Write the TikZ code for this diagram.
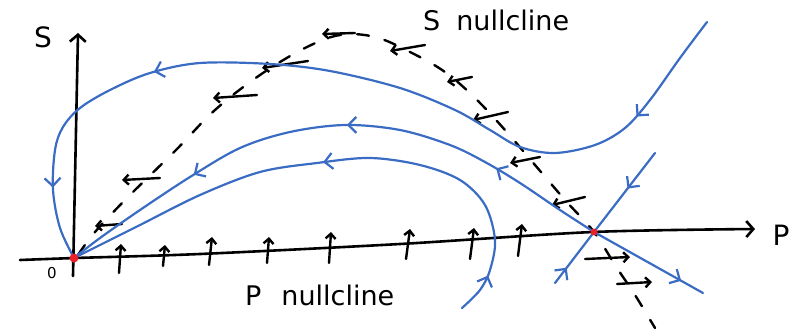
\documentclass[tikz,border=0pt]{standalone}
\usepackage{fontspec}
\setmainfont{DejaVu Sans}
\usetikzlibrary{arrows.meta,decorations.markings}
\definecolor{trajblue}{RGB}{59,108,196}
\definecolor{dotred}{RGB}{232,32,42}
\tikzset{
 axisline/.style={line width=2.6pt, line cap=round, black},
 traj/.style={line width=2.2pt, trajblue, line cap=round},
 fieldarr/.style={line width=2.4pt, line cap=round, black, -{Straight Barb[length=5pt,width=10pt]}},
 nullc/.style={line width=2.4pt, black, dash pattern=on 12pt off 16pt, line cap=round},
 flowmark/.style={postaction={decorate,decoration={markings,mark=at position #1 with {\arrow[trajblue,line width=2.2pt]{Straight Barb[length=8pt,width=16pt]}}}}},
 lbl/.style={inner sep=0pt, font=\fontsize{27}{29}\selectfont},
 biglbl/.style={inner sep=0pt, font=\fontsize{28}{30}\selectfont}
}
\begin{document}
\begin{tikzpicture}[x=1pt,y=-1pt]
\useasboundingbox (0,0) rectangle (800,332);
\coordinate (O) at (74,258);
\coordinate (Q) at (594,232);
\coordinate (Stop) at (78,33);
\coordinate (Sbot) at (73,276);

% axes
\draw[axisline, -{Straight Barb[length=7pt,width=16pt]}] (Sbot) -- (Stop);
\draw[axisline, -{Straight Barb[length=7pt,width=16pt]}] plot[smooth, tension=0.5] coordinates {(20,260) (75,258) (200,254) (400,244) (593,232) (755,229)};

% S nullcline (dashed)
\draw[nullc] plot[smooth, tension=0.6] coordinates {(78,255) (95,232) (128,197) (176,150) (215,110) (260,75) (305,48) (340,35) (375,37) (410,52) (445,72) (475,98) (505,130) (535,165) (565,200) (594,232) (615,265) (635,295) (655,328)};

% vector field: left arrows near the S nullcline
\draw[fieldarr] (122,224) -- (95,226);
\draw[fieldarr] (160,178) -- (122,180);
\draw[fieldarr] (257,95) -- (213,98);
\draw[fieldarr] (308,61) -- (262,68);
\draw[fieldarr] (355,33) -- (322,34);
\draw[fieldarr] (425,45) -- (390,51);
\draw[fieldarr] (472,77) -- (447,82);
\draw[fieldarr] (508,112) -- (473,120);
\draw[fieldarr] (540,157) -- (510,163);
\draw[fieldarr] (585,197) -- (552,205);
% right arrows below the axis
\draw[fieldarr] (585,259) -- (630,257);
\draw[fieldarr] (617,284) -- (652,282);
% up arrows along the P nullcline
\draw[fieldarr] (119,273) -- (121,244);
\draw[fieldarr] (163,266) -- (165,245);
\draw[fieldarr] (209,265) -- (212,237);
\draw[fieldarr] (267,263) -- (269,237);
\draw[fieldarr] (329,263) -- (331,232);
\draw[fieldarr] (406,259) -- (410,229);
\draw[fieldarr] (470,259) -- (474,228);
\draw[fieldarr] (518,256) -- (522,224);

% trajectories
\draw[traj, flowmark=0.135, flowmark=0.72, flowmark=0.915] plot[smooth, tension=0.55] coordinates {(707,22) (680,58) (650,100) (625,128) (595,145) (555,153) (520,147) (490,130) (455,110) (400,88) (330,71) (270,64) (200,63) (150,73) (110,90) (80,108) (63,127) (55,150) (53,190) (60,228) (74,258)};
\draw[traj, flowmark=0.2, flowmark=0.47, flowmark=0.75] plot[smooth, tension=0.55] coordinates {(594,232) (560,210) (520,183) (485,162) (450,145) (400,130) (345,125) (290,132) (240,148) (190,177) (140,210) (100,238) (74,258)};
\draw[traj, flowmark=0.8] (Q) -- (703,293);
\draw[traj, flowmark=0.075, flowmark=0.52] plot[smooth, tension=0.55] coordinates {(462,308) (480,290) (490,270) (495,240) (485,205) (460,180) (420,165) (370,158) (317,163) (260,172) (200,195) (140,225) (100,245) (74,258)};
\draw[traj, flowmark=0.45] (655,153) -- (Q);
\draw[traj, flowmark=0.3] (555,283) -- (Q);

% equilibria
\fill[dotred] (O) circle (4.5pt);
\fill[dotred] (Q) circle (3.5pt);

% labels
\node[biglbl] (labS) at (43,37) {S};
\node[biglbl] (labP) at (781,235) {P};
\node[inner sep=0pt, font=\fontsize{15}{17}\selectfont] (lab0) at (52,273) {0};
\node[lbl, anchor=west] (labSn) at (423,20) {S\hspace{16pt}nullcline};
\node[lbl, anchor=west] (labPn) at (245,295) {P\hspace{20pt}nullcline};
\end{tikzpicture}
\end{document}
